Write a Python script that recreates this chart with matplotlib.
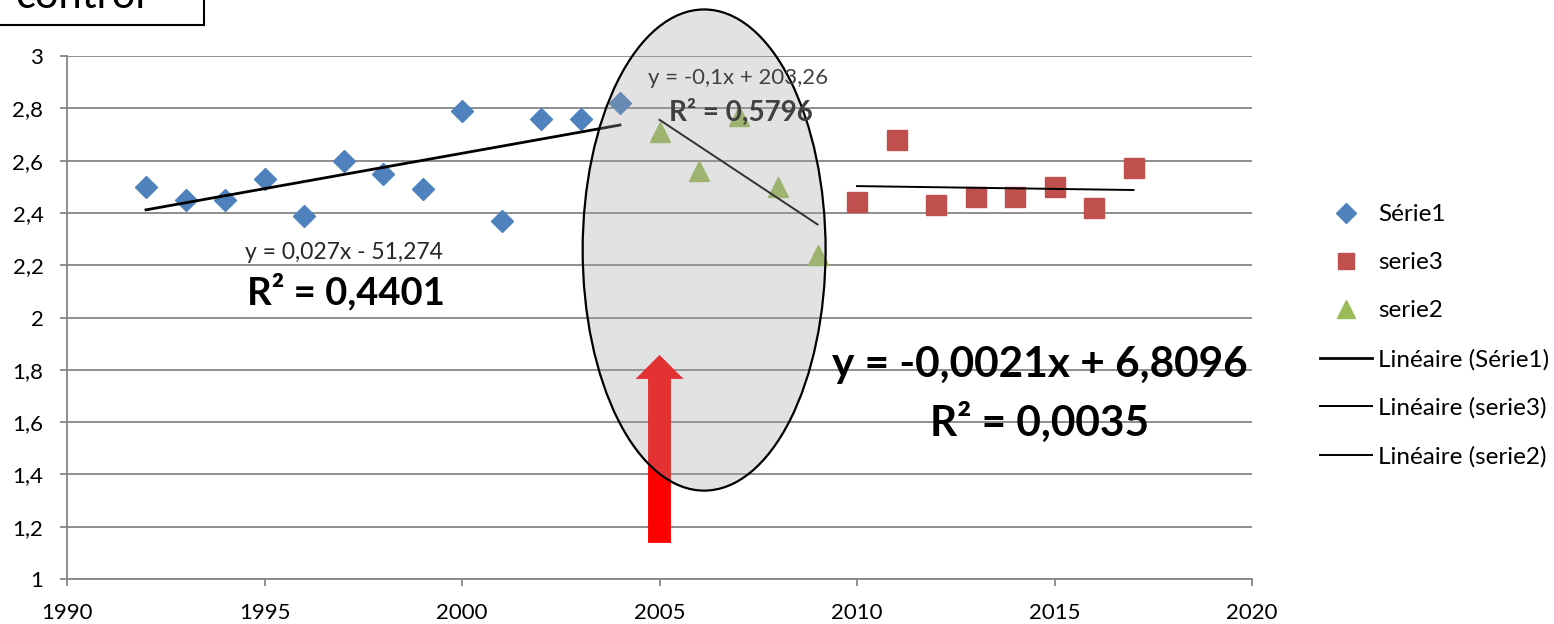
import numpy as np
import matplotlib
matplotlib.use("Agg")
import matplotlib.pyplot as plt
from matplotlib.patches import Ellipse, FancyArrow, Rectangle
from matplotlib.lines import Line2D
from matplotlib.ticker import FuncFormatter

plt.rcParams['font.family'] = ['Lato', 'DejaVu Sans']

# data
years1 = [1992, 1993, 1994, 1995, 1996, 1997, 1998, 1999, 2000, 2001, 2002, 2003, 2004]
serie1 = [2.50, 2.45, 2.45, 2.53, 2.39, 2.60, 2.55, 2.49, 2.79, 2.37, 2.76, 2.76, 2.82]
years2 = [2005, 2006, 2007, 2008, 2009]
serie2 = [2.71, 2.56, 2.77, 2.50, 2.24]
years3 = [2010, 2011, 2012, 2013, 2014, 2015, 2016, 2017]
serie3 = [2.44, 2.68, 2.43, 2.46, 2.46, 2.50, 2.42, 2.57]

blue = "#4f81bd"
red = "#c0504d"
green = "#9bbb59"
grid_col = "#868686"

fig = plt.figure(figsize=(15.54, 6.24), dpi=100)
ax = fig.add_axes([67 / 1554, 1 - 579 / 624, (1252 - 67) / 1554, (579 - 56) / 624])

ax.set_xlim(1990, 2020)
ax.set_ylim(1, 3)
ax.set_xticks(np.arange(1990, 2021, 5))
ax.set_yticks(np.arange(1, 3.01, 0.2))
ax.yaxis.set_major_formatter(FuncFormatter(lambda v, p: ("%.1f" % v).rstrip("0").rstrip(".").replace(".", ",")))
ax.grid(axis="y", color=grid_col, lw=1.3, zorder=0)
ax.set_axisbelow(True)
for s in ["top", "right"]:
    ax.spines[s].set_visible(False)
for s in ["left", "bottom"]:
    ax.spines[s].set_color(grid_col)
    ax.spines[s].set_linewidth(1.3)
ax.tick_params(axis="both", length=5, width=1.3, color=grid_col, labelsize=16)
ax.tick_params(axis="y", pad=12)
ax.tick_params(axis="x", pad=12)

# scatter series
ax.plot(years1, serie1, "D", color=blue, ms=11, zorder=3)
ax.plot(years3, serie3, "s", color=red, ms=14.5, zorder=3)
ax.plot(years2, serie2, "^", color=green, ms=15, zorder=3)

# linear trend lines
for xs, ys, lw in [(years1, serie1, 2.0), (years3, serie3, 1.4), (years2, serie2, 1.4)]:
    k, b = np.polyfit(xs, ys, 1)
    xx = np.array([xs[0], xs[-1]])
    ax.plot(xx, k * xx + b, color="black", lw=lw, zorder=3)

# red arrow and grey ellipse
ax.add_patch(FancyArrow(2005.0, 1.138, 0, 0.719, width=0.58, head_width=1.215,
                        head_length=0.092, length_includes_head=True,
                        color="red", lw=0, zorder=2))
ax.add_patch(Ellipse((2006.13, 2.258), 6.15, 1.84, facecolor=(0.635, 0.635, 0.635, 0.31),
                     edgecolor="black", lw=1.6, clip_on=False, zorder=4))

# equation labels
ax.text(1994.5, 2.247, "y = 0,027x - 51,274", fontsize=16.5, color="#262626", va="center", zorder=5)
ax.text(1994.55, 2.098, "R² = 0,4401", fontsize=27.5, fontweight="bold", color="black", va="center", zorder=5)
ax.text(2004.7, 2.915, "y = -0,1x + 203,26", fontsize=16, color="#404040", va="center", zorder=5)
ax.text(2005.25, 2.786, "R² = 0,5796", fontsize=20, fontweight="bold", color="#404040", va="center", zorder=5)
ax.text(2014.63, 1.818, "y = -0,0021x + 6,8096", fontsize=30.5, fontweight="bold", ha="center", va="center", zorder=5)
ax.text(2014.63, 1.597, "R² = 0,0035", fontsize=30.5, fontweight="bold", ha="center", va="center", zorder=5)

# legend
handles = [
    Line2D([], [], ls="", marker="D", color=blue, ms=10),
    Line2D([], [], ls="", marker="s", color=red, ms=12),
    Line2D([], [], ls="", marker="^", color=green, ms=13),
    Line2D([], [], color="black", lw=2.0),
    Line2D([], [], color="black", lw=1.4),
    Line2D([], [], color="black", lw=1.4),
]
labels = ["Série1", "serie3", "serie2", "Linéaire (Série1)", "Linéaire (serie3)", "Linéaire (serie2)"]
fig.legend(handles, labels, loc="upper left", bbox_to_anchor=(1320 / 1554, 1 - 204 / 624),
           frameon=False, fontsize=17.5, labelspacing=1.12, handlelength=2.14, handletextpad=0.25,
           borderaxespad=0, borderpad=0)

# cut-off "control" box at the top left
fig.patches.append(Rectangle((-0.01, 1 - 25 / 624), 0.01 + 204 / 1554, 0.2, transform=fig.transFigure,
                             fill=False, edgecolor="black", lw=1.5, clip_on=False))
fig.text(15 / 1554, 1 - 8 / 624, "control", fontsize=30, va="baseline", ha="left")

fig.savefig("out.png", dpi=100)
